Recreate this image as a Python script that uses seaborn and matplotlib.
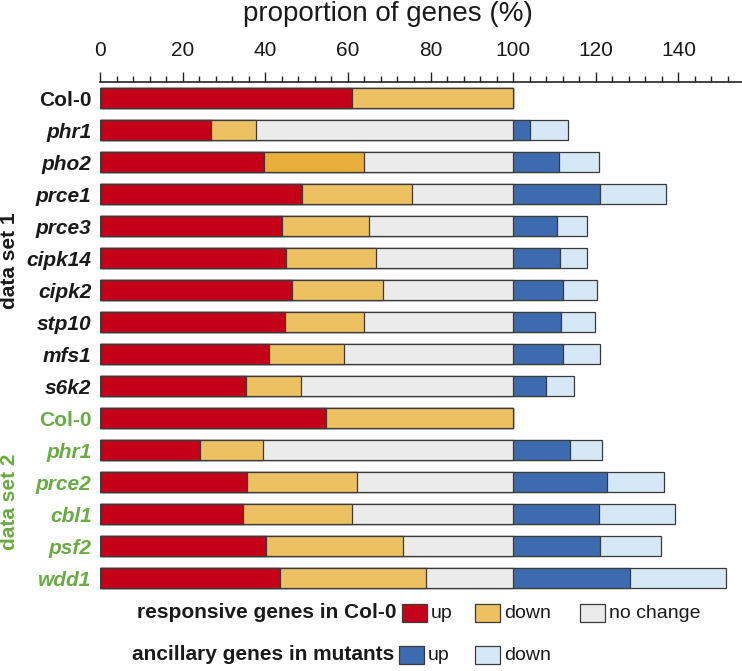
import numpy as np
import pandas as pd
import matplotlib.pyplot as plt
from matplotlib.patches import Rectangle
import seaborn as sns

sns.set_theme(style='white')
plt.rcParams['font.family'] = ['Liberation Sans', 'DejaVu Sans']

# rows, top to bottom
genes = ['Col-0', 'phr1', 'pho2', 'prce1', 'prce3', 'cipk14', 'cipk2', 'stp10',
         'mfs1', 's6k2', 'Col-0', 'phr1', 'prce2', 'cbl1', 'psf2', 'wdd1']
dataset = [1] * 10 + [2] * 6

# responsive genes in Col-0 (% of genes)
resp_up = [60.9, 26.8, 39.8, 48.8, 44.0, 45.0, 46.4, 44.7, 40.8, 35.3,
           54.6, 24.3, 35.7, 34.7, 40.2, 43.5]
resp_down = [39.1, 10.9, 24.0, 26.7, 21.1, 21.8, 22.0, 19.2, 18.2, 13.3,
             45.4, 15.2, 26.6, 26.2, 33.2, 35.4]
# ancillary genes in mutants (% on top of 100)
anc_up = [0, 4.0, 11.1, 21.0, 10.6, 11.3, 12.0, 11.5, 12.0, 7.9,
          0, 13.7, 22.7, 20.7, 21.1, 28.3]
anc_down = [0, 9.4, 9.8, 16.0, 7.4, 6.5, 8.3, 8.4, 9.1, 6.8,
            0, 7.7, 13.8, 18.4, 14.7, 23.2]

df = pd.DataFrame({'row': [str(i) for i in range(len(genes))],
                   'up': resp_up, 'down': resp_down,
                   'aup': anc_up, 'adown': anc_down})
df['up_end'] = df['up']
df['down_end'] = df['up'] + df['down']
df['nc_end'] = 100.0
df['aup_end'] = 100 + df['aup']
df['adown_end'] = df['aup_end'] + df['adown']

c_red = '#C40018'
c_gold = '#EDC162'
c_grey = '#EBEBEB'
c_blue = '#3D6BB0'
c_light = '#D6E8F5'
green = '#6AAB45'
edge = '#3a3a3a'

gold_pal = [c_gold] * len(genes)
gold_pal[2] = '#E8AF3C'  # pho2 drawn a bit darker in the original

fig = plt.figure(figsize=(7.42, 6.71), dpi=100)
W, H = 742, 671
ax = fig.add_axes([100 / W, 1 - 594 / H, 642 / W, 512 / H])

order = list(df['row'])
kw = dict(y='row', order=order, orient='h', width=0.62, edgecolor=edge,
          linewidth=0.9, errorbar=None, ax=ax)
sns.barplot(data=df, x='adown_end', color=c_light, saturation=1, **kw)
sns.barplot(data=df, x='aup_end', color=c_blue, saturation=1, **kw)
sns.barplot(data=df, x='nc_end', color=c_grey, saturation=1, **kw)
sns.barplot(data=df, x='down_end', hue='row', palette=gold_pal, legend=False,
            saturation=1, **kw)
sns.barplot(data=df, x='up_end', color=c_red, saturation=1, **kw)

ax.set_xlim(0, 155.4)
ax.set_ylim(len(genes) - 0.5, -0.5)
ax.set_xlabel('')
ax.set_ylabel('')

# top axis
ax.xaxis.tick_top()
ax.set_xticks(np.arange(0, 141, 20))
ax.set_xticks(np.arange(0, 156, 4), minor=True)
ax.tick_params(axis='x', which='major', direction='out', length=7.5, width=1,
               color='#222222', labelsize=15, pad=8, labelcolor='#1a1a1a')
ax.tick_params(axis='x', which='minor', direction='out', length=4, width=1,
               color='#222222')
for s in ['left', 'right', 'bottom']:
    ax.spines[s].set_visible(False)
ax.spines['top'].set_color('#222222')
ax.spines['top'].set_linewidth(1.2)

ax.set_yticks(range(len(genes)))
ax.set_yticklabels(genes)
ax.tick_params(axis='y', length=0, pad=6)
for lab, g, d in zip(ax.get_yticklabels(), genes, dataset):
    lab.set_fontsize(15)
    lab.set_fontweight('bold')
    lab.set_fontstyle('normal' if g == 'Col-0' else 'italic')
    lab.set_color('#1a1a1a' if d == 1 else green)

fig.text(388 / W, 1 - 14 / H, 'proportion of genes (%)', fontsize=20,
         ha='center', va='center', color='#1a1a1a')
fig.text(10 / W, 1 - 261 / H, 'data set 1', rotation=90, fontsize=15,
         fontweight='bold', ha='center', va='center', color='#1a1a1a')
fig.text(10 / W, 1 - 502 / H, 'data set 2', rotation=90, fontsize=15,
         fontweight='bold', ha='center', va='center', color=green)

# legend
def patch(x, y, col):
    fig.add_artist(Rectangle((x / W, 1 - (y + 9) / H), 25 / W, 18 / H,
                             transform=fig.transFigure, facecolor=col,
                             edgecolor=edge, linewidth=0.9))

def label(x, y, txt, **k):
    fig.text(x / W, 1 - y / H, txt, va='center', color='#1a1a1a', **k)

y1, y2 = 613, 655
label(397, y1, 'responsive genes in Col-0', ha='right', fontsize=15,
      fontweight='bold')
patch(402, y1, c_red)
label(431, y1, 'up', fontsize=14)
patch(475, y1, c_gold)
label(504, y1, 'down', fontsize=14)
patch(580, y1, c_grey)
label(609, y1, 'no change', fontsize=14)

label(394, y2, 'ancillary genes in mutants', ha='right', fontsize=15,
      fontweight='bold')
patch(399, y2, c_blue)
label(428, y2, 'up', fontsize=14)
patch(475, y2, c_light)
label(504, y2, 'down', fontsize=14)

fig.savefig('out.png', dpi=100)
